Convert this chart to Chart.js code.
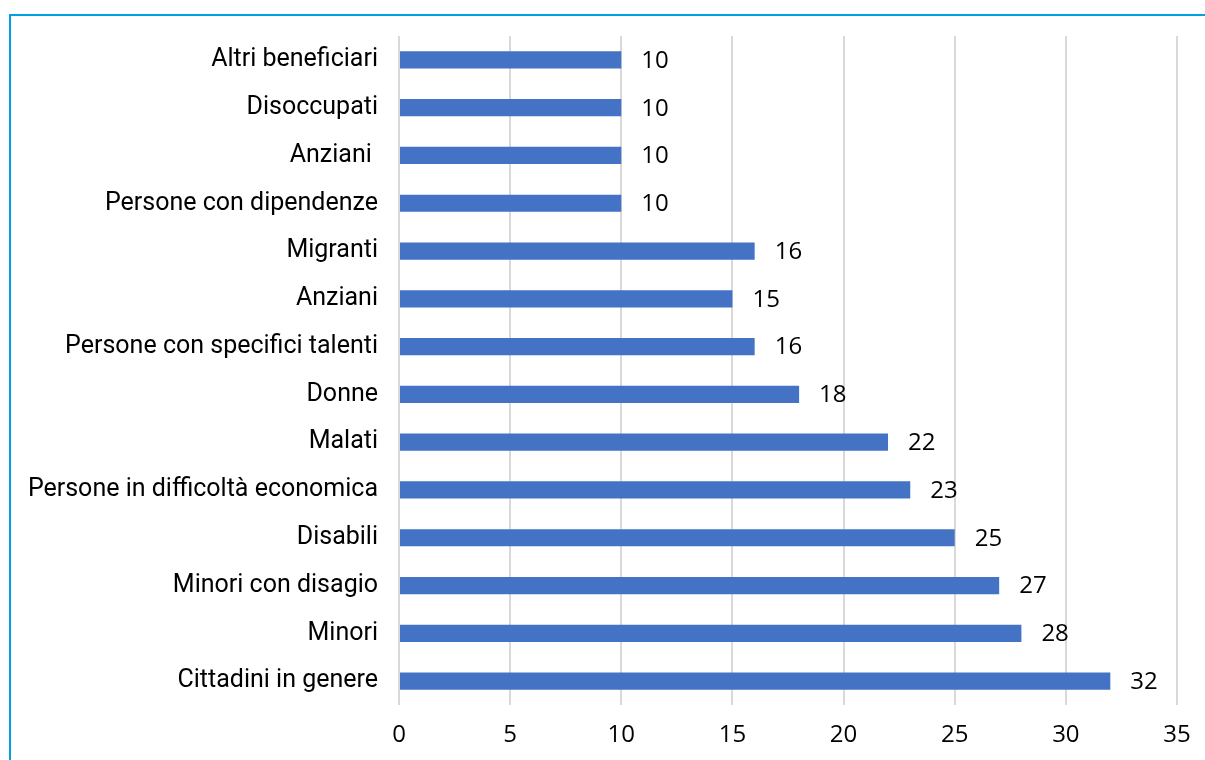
<!DOCTYPE html>
<html>
<head>
<meta charset="utf-8">
<script src="https://cdn.jsdelivr.net/npm/chart.js@4"></script>
<style>
  html, body { margin: 0; padding: 0; background: #fff; }
  #wrap { position: relative; width: 1205px; height: 760px; overflow: hidden; }
  #frame { position: absolute; left: 9px; top: 14px; width: 1300px; height: 900px;
           border-top: 2px solid #00a0e3; border-left: 2px solid #00a0e3; box-sizing: border-box; }
  canvas { position: absolute; left: 0; top: 0; }
</style>
</head>
<body>
<div id="wrap">
  <div id="frame"></div>
  <canvas id="myChart" width="1205" height="760"></canvas>
</div>
<script>
var categories = [
  'Altri beneficiari',
  'Disoccupati',
  'Anziani ',
  'Persone con dipendenze',
  'Migranti',
  'Anziani',
  'Persone con specifici talenti',
  'Donne',
  'Malati',
  'Persone in difficoltà economica',
  'Disabili',
  'Minori con disagio',
  'Minori',
  'Cittadini in genere'
];
var values = [10, 10, 10, 10, 16, 15, 16, 18, 22, 23, 25, 27, 28, 32];
var xTicks = [0, 5, 10, 15, 20, 25, 30, 35];

var barColor = '#4472c4';

var valueLabels = {
  id: 'valueLabels',
  afterDatasetsDraw: function(chart) {
    var ctx = chart.ctx;
    var meta = chart.getDatasetMeta(0);
    ctx.save();
    ctx.font = '24px "Open Sans"';
    ctx.fillStyle = '#000';
    ctx.textAlign = 'left';
    ctx.textBaseline = 'middle';
    meta.data.forEach(function(bar, i) {
      ctx.fillText(values[i], bar.x + 20, bar.y + 1);
    });
    ctx.restore();
  }
};

var ctx = document.getElementById('myChart').getContext('2d');
var myChart = new Chart(ctx, {
  type: 'bar',
  data: {
    labels: categories,
    datasets: [{
      data: values,
      backgroundColor: barColor,
      borderWidth: 0,
      categoryPercentage: 1,
      barPercentage: 0.36
    }]
  },
  options: {
    indexAxis: 'y',
    responsive: false,
    animation: false,
    layout: { padding: { top: 33, right: 28, left: 0, bottom: 0 } },
    plugins: {
      legend: { display: false },
      tooltip: { enabled: false }
    },
    scales: {
      x: {
        min: 0,
        max: 35,
        afterBuildTicks: function(scale) {
          scale.ticks = xTicks.map(function(v) { return { value: v }; });
        },
        afterFit: function(scale) {
          scale.height = 55;
          scale.paddingRight = 0;
        },
        grid: { color: '#d9d9d9', lineWidth: 2, drawTicks: false },
        border: { display: false },
        ticks: {
          padding: 16,
          color: '#000',
          font: { family: 'Open Sans', size: 24 }
        }
      },
      y: {
        afterFit: function(scale) { scale.width = 399; },
        grid: { display: false, drawTicks: false },
        border: { display: false },
        ticks: {
          padding: 21,
          color: '#000',
          font: { family: 'Roboto', size: 25 }
        }
      }
    }
  },
  plugins: [valueLabels]
});
</script>
</body>
</html>
